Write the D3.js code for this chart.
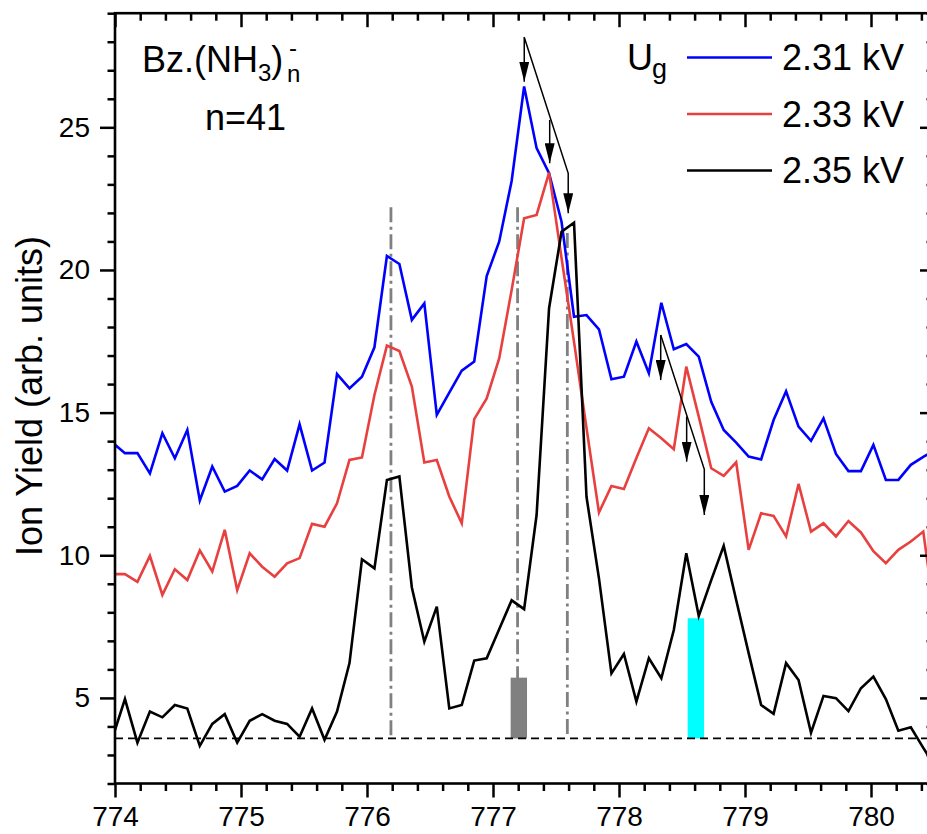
<!doctype html>
<html>
<head>
<meta charset="utf-8">
<script src="https://cdn.jsdelivr.net/npm/d3@7"></script>
<style>
  body { margin: 0; background: #fff; }
  svg { font-family: "Liberation Sans", Arial, sans-serif; }
</style>
</head>
<body>
<svg width="927" height="834"></svg>
<script>

// photon energy (eV), one point per step
let energy = [773.980, 774.079, 774.178, 774.277, 774.376, 774.475, 774.574, 774.673, 774.772, 774.871,
              774.970, 775.069, 775.168, 775.267, 775.366, 775.465, 775.564, 775.663, 775.762, 775.861,
              775.960, 776.059, 776.158, 776.257, 776.356, 776.455, 776.554, 776.653, 776.752, 776.851,
              776.950, 777.049, 777.148, 777.247, 777.346, 777.445, 777.544, 777.643, 777.742, 777.841,
              777.940, 778.039, 778.138, 778.237, 778.336, 778.435, 778.534, 778.633, 778.732, 778.831,
              778.930, 779.029, 779.128, 779.227, 779.326, 779.425, 779.524, 779.623, 779.722, 779.821,
              779.920, 780.019, 780.118, 780.217, 780.316, 780.415, 780.514]

// ion yield at Ug = 2.31 kV
let yield231 = [13.95, 13.58, 13.58, 12.87, 14.28, 13.40, 14.39, 11.92, 13.11, 12.23,
                12.43, 12.97, 12.66, 13.37, 12.97, 14.59, 12.97, 13.25, 16.35, 15.85,
                16.26, 17.29, 20.49, 20.21, 18.25, 18.83, 14.92, 15.70, 16.47, 16.79,
                19.79, 20.99, 23.12, 26.43, 24.27, 23.39, 21.69, 18.36, 18.42, 17.92,
                16.17, 16.26, 17.49, 16.38, 18.85, 17.22, 17.40, 16.96, 15.38, 14.39,
                13.95, 13.46, 13.36, 14.74, 15.75, 14.51, 14.01, 14.80, 13.55, 12.95,
                12.95, 13.87, 12.64, 12.64, 13.17, 13.45, 13.70]

// ion yield at Ug = 2.33 kV
let yield233 = [9.34, 9.34, 9.07, 9.98, 8.61, 9.51, 9.13, 10.17, 9.43, 10.89,
                8.78, 10.07, 9.60, 9.25, 9.72, 9.90, 11.10, 11.00, 11.82, 13.34,
                13.43, 15.62, 17.35, 17.16, 15.91, 13.25, 13.34, 12.06, 11.12, 14.77,
                15.50, 16.90, 19.30, 21.81, 21.93, 23.41, 20.42, 17.48, 14.46, 11.50,
                12.43, 12.32, 13.41, 14.45, 14.10, 13.72, 16.61, 14.86, 13.05, 12.78,
                13.26, 10.19, 11.47, 11.38, 10.66, 12.50, 10.83, 11.12, 10.66, 11.20,
                10.80, 10.14, 9.72, 10.19, 10.48, 10.83, 7.60]

// ion yield at Ug = 2.35 kV
let yield235 = [3.60, 4.96, 3.43, 4.52, 4.32, 4.75, 4.63, 3.32, 4.09, 4.43,
                3.43, 4.20, 4.43, 4.20, 4.09, 3.64, 4.63, 3.53, 4.52, 6.22,
                9.86, 9.54, 12.64, 12.76, 8.87, 6.97, 8.20, 4.63, 4.75, 6.31,
                6.39, 7.41, 8.42, 8.11, 11.41, 18.66, 21.34, 21.66, 12.05, 9.19,
                5.86, 6.54, 4.87, 6.39, 5.69, 7.38, 10.07, 7.87, 9.13, 10.33,
                8.43, 6.57, 4.75, 4.44, 6.22, 5.63, 3.78, 5.07, 4.99, 4.54,
                5.34, 5.75, 4.96, 3.85, 3.97, 3.25, 2.55]

let seriesLabels = ["2.31 kV", "2.33 kV", "2.35 kV"]

let xMajor = [774, 775, 776, 777, 778, 779, 780]
let yMajor = [5, 10, 15, 20, 25]

// background level and resonance markers
let baseLevel = 3.58
let markerX = [776.19, 777.195, 777.59]
let markerTop = [22.2, 22.2, 21.3]
let barX0 = [777.14, 778.545]
let barX1 = [777.27, 778.675]
let barTop = [5.71, 7.79]

// shift arrows, each a polyline in data coords
let arrows = [
  [[777.248, 28.16], [777.248, 26.6]],
  [[777.248, 28.16], [777.597, 23.39], [777.597, 21.99]],
  [[777.45, 25.26], [777.45, 23.74]],
  [[778.331, 17.72], [778.331, 16.14]],
  [[778.331, 17.72], [778.677, 13.01], [778.677, 11.41]],
  [[778.537, 14.86], [778.537, 13.28]]
]

let colors = ["#0000ff", "#e8403f", "#000000"]

let mLeft = 115, mRight = 934, mTop = 13.2, mBottom = 783.5

let svg = d3.select("svg")

let x = d3.scaleLinear().domain([774, 780.5]).range([mLeft, mRight])
let y = d3.scaleLinear().domain([2, 29]).range([mBottom, mTop])

let xMinor = d3.range(774, 780.51, 0.2).filter(v => Math.abs(v - Math.round(v)) > 0.01)
let yMinor = d3.range(2, 29.01, 1).filter(v => v % 5 != 0)

let defs = svg.append("defs")
defs.append("clipPath").attr("id", "plot")
  .append("rect").attr("x", mLeft).attr("y", mTop)
  .attr("width", mRight - mLeft).attr("height", mBottom - mTop)

defs.append("marker")
    .attr("id", "head")
    .attr("viewBox", "0 -5 20 10")
    .attr("refX", 20).attr("refY", 0)
    .attr("markerWidth", 20).attr("markerHeight", 10)
    .attr("markerUnits", "userSpaceOnUse")
    .attr("orient", "auto")
  .append("path").attr("d", "M0,-5L20,0L0,5Z").attr("fill", "#000")

let plot = svg.append("g").attr("clip-path", "url(#plot)")

// grey dash-dot guides
plot.selectAll(".guide")
  .data(markerX)
  .enter().append("line")
    .attr("x1", d => x(d)).attr("x2", d => x(d))
    .attr("y1", (d, i) => y(markerTop[i])).attr("y2", y(baseLevel))
    .attr("stroke", "#808080")
    .attr("stroke-width", 2.8)
    .attr("stroke-dasharray", "15,4.5,3,4.5")

// bars
plot.selectAll(".bar")
  .data(barX0)
  .enter().append("rect")
    .attr("x", d => x(d))
    .attr("width", (d, i) => x(barX1[i]) - x(d))
    .attr("y", (d, i) => y(barTop[i]))
    .attr("height", (d, i) => y(baseLevel) - y(barTop[i]))
    .attr("fill", (d, i) => i == 0 ? "#808080" : "#00ffff")

// baseline
plot.append("line")
  .attr("x1", mLeft).attr("x2", mRight)
  .attr("y1", y(baseLevel)).attr("y2", y(baseLevel))
  .attr("stroke", "#000").attr("stroke-width", 1.6)
  .attr("stroke-dasharray", "8,5")

let line = d3.line()
  .x((d, i) => x(energy[i]))
  .y(d => y(d))

let allSeries = [yield231, yield233, yield235]

plot.selectAll(".series")
  .data(allSeries)
  .enter().append("path")
    .attr("d", d => line(d))
    .attr("fill", "none")
    .attr("stroke", (d, i) => colors[i])
    .attr("stroke-width", 2.6)
    .attr("stroke-linejoin", "miter")

// arrows
let arrowLine = d3.line().x(d => x(d[0])).y(d => y(d[1]))
svg.selectAll(".arrow")
  .data(arrows)
  .enter().append("path")
    .attr("d", d => arrowLine(d))
    .attr("fill", "none")
    .attr("stroke", "#000")
    .attr("stroke-width", 1.5)
    .attr("marker-end", "url(#head)")

// axes
function styleAxis(g) {
  g.select(".domain").remove()
  g.selectAll("line").attr("stroke", "#000").attr("stroke-width", 2.5)
  g.selectAll("text").attr("font-size", 28).attr("fill", "#000")
    .attr("font-family", "'Liberation Sans', Arial, sans-serif")
}

svg.append("g").attr("transform", `translate(0,${mBottom})`)
  .call(d3.axisBottom(x).tickValues(xMajor).tickSize(14).tickPadding(9).tickFormat(d3.format("d")))
  .call(styleAxis)
svg.append("g").attr("transform", `translate(0,${mBottom})`)
  .call(d3.axisBottom(x).tickValues(xMinor).tickSize(7.5).tickFormat(""))
  .call(styleAxis)
svg.append("g").attr("transform", `translate(0,${mTop})`)
  .call(d3.axisBottom(x).tickValues(xMajor).tickSize(14).tickFormat(""))
  .call(styleAxis)
svg.append("g").attr("transform", `translate(0,${mTop})`)
  .call(d3.axisBottom(x).tickValues(xMinor).tickSize(7.5).tickFormat(""))
  .call(styleAxis)

svg.append("g").attr("transform", `translate(${mLeft},0)`)
  .call(d3.axisLeft(y).tickValues(yMajor).tickSize(15).tickPadding(10))
  .call(styleAxis)
svg.append("g").attr("transform", `translate(${mLeft},0)`)
  .call(d3.axisLeft(y).tickValues(yMinor).tickSize(7.5).tickFormat(""))
  .call(styleAxis)
svg.append("g").attr("transform", `translate(${mRight},0)`)
  .call(d3.axisLeft(y).tickValues(yMajor).tickSize(14).tickFormat(""))
  .call(styleAxis)
svg.append("g").attr("transform", `translate(${mRight},0)`)
  .call(d3.axisLeft(y).tickValues(yMinor).tickSize(7.5).tickFormat(""))
  .call(styleAxis)

svg.append("rect")
  .attr("x", mLeft).attr("y", mTop)
  .attr("width", mRight - mLeft).attr("height", mBottom - mTop)
  .attr("fill", "none").attr("stroke", "#000").attr("stroke-width", 2.6)

// axis title
svg.append("text")
  .attr("transform", "translate(42,396) rotate(-90)")
  .attr("text-anchor", "middle")
  .attr("font-size", 36)
  .text("Ion Yield (arb. units)")

// species label
let species = svg.append("text").attr("x", 142).attr("y", 72).attr("font-size", 36)
species.append("tspan").text("Bz.(NH")
species.append("tspan").attr("font-size", 24).attr("dy", 9).text("3")
species.append("tspan").attr("dy", -9).text(")")
svg.append("text").attr("x", 287).attr("y", 82).attr("font-size", 24).text("n")
svg.append("text").attr("x", 289).attr("y", 56).attr("font-size", 24).text("-")
svg.append("text").attr("x", 205).attr("y", 130).attr("font-size", 36).text("n=41")

// legend
svg.append("text").attr("x", 627).attr("y", 70).attr("font-size", 36).text("U")
svg.append("text").attr("x", 652).attr("y", 78).attr("font-size", 27).text("g")

let legend = svg.selectAll(".legend")
  .data(seriesLabels)
  .enter().append("g")
    .attr("transform", (d, i) => `translate(0,${57.5 + i * 56.5})`)

legend.append("line")
  .attr("x1", 687).attr("x2", 772)
  .attr("stroke", (d, i) => colors[i])
  .attr("stroke-width", 2.6)

legend.append("text")
  .attr("x", 782).attr("y", 12.5)
  .attr("font-size", 36)
  .text(d => d)

</script>
</body>
</html>
